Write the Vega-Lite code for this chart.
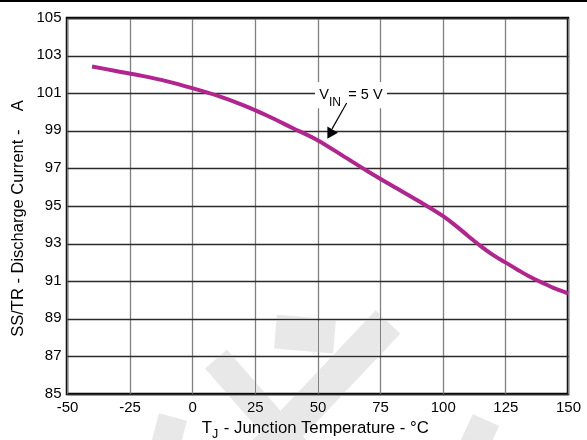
{
  "$schema": "https://vega.github.io/schema/vega-lite/v6.json",
  "width": 501,
  "height": 376,
  "autosize": "none",
  "padding": {"left": 67, "top": 18, "right": 19, "bottom": 46},
  "background": "white",
  "config": {
    "font": "Liberation Sans",
    "view": {"stroke": "black", "strokeWidth": 2.5},
    "axis": {"labelFont": "Liberation Sans", "titleFont": "Liberation Sans", "labelColor": "black", "titleColor": "black", "labelFontSize": 15, "titleFontSize": 16.5, "titleFontWeight": "normal", "ticks": false, "tickSize": 0, "domain": false}
  },
  "encoding": {
    "x": {"field": "x", "type": "quantitative", "scale": {"domain": [-50, 150], "nice": false, "zero": false},
      "axis": {"values": [-50, -25, 0, 25, 50, 75, 100, 125, 150], "labelExpr": "'' + datum.value", "title": null, "labelPadding": 5, "gridColor": "#808080", "gridWidth": 1.3, "gridOpacity": 1, "labelFlush": false}},
    "y": {"field": "y", "type": "quantitative", "scale": {"domain": [85, 105], "nice": false, "zero": false},
      "axis": {"values": [85, 87, 89, 91, 93, 95, 97, 99, 101, 103, 105], "labelExpr": "'' + datum.value", "title": "SS/TR - Discharge Current -\u00a0\u00a0\u00a0\u00a0A", "labelPadding": 6, "labelOffset": -2, "gridColor": "#2a2a2a", "gridWidth": 1.3, "gridOpacity": 1, "titleX": -50, "titleY": 200, "titleBaseline": "middle", "titleAngle": 270, "labelFlush": false}}
  },
  "layer": [
    {
      "data": {"values": [
        {"x": -40, "y": 102.42}, {"x": -30, "y": 102.17}, {"x": -20, "y": 101.92}, {"x": -10, "y": 101.63},
        {"x": 0, "y": 101.27}, {"x": 10, "y": 100.87}, {"x": 20, "y": 100.38}, {"x": 30, "y": 99.8},
        {"x": 40, "y": 99.15}, {"x": 50, "y": 98.5}, {"x": 60, "y": 97.68}, {"x": 70, "y": 96.85},
        {"x": 80, "y": 96.06}, {"x": 90, "y": 95.29}, {"x": 100, "y": 94.47}, {"x": 105, "y": 93.97},
        {"x": 110, "y": 93.42}, {"x": 115, "y": 92.88}, {"x": 120, "y": 92.4}, {"x": 125, "y": 92.0},
        {"x": 130, "y": 91.6}, {"x": 135, "y": 91.22}, {"x": 140, "y": 90.9}, {"x": 145, "y": 90.6},
        {"x": 150, "y": 90.35}
      ]},
      "mark": {"type": "line", "color": "#b0268e", "strokeWidth": 4, "interpolate": "monotone"}
    },
    {
      "data": {"values": [{"x": 49.0, "y": 101.6, "x2": 77.7, "y2": 100.2}]},
      "mark": {"type": "rect", "color": "white"},
      "encoding": {"x2": {"field": "x2"}, "y2": {"field": "y2"}}
    },
    {
      "data": {"values": [{"x": 50.72, "y": 100.68, "t": "V"}, {"x": 62.3, "y": 100.68, "t": "= 5 V"}]},
      "mark": {"type": "text", "align": "left", "baseline": "alphabetic", "fontSize": 14.5, "color": "black"},
      "encoding": {"text": {"field": "t"}}
    },
    {
      "data": {"values": [{"x": 54.6, "y": 100.34, "t": "IN"}]},
      "mark": {"type": "text", "align": "left", "baseline": "alphabetic", "fontSize": 12, "color": "black"},
      "encoding": {"text": {"field": "t"}}
    },
    {
      "data": {"values": [{"x": 61.65, "y": 100.48, "x2": 55.8, "y2": 99.1}]},
      "mark": {"type": "rule", "color": "black", "strokeWidth": 1.2},
      "encoding": {"x2": {"field": "x2"}, "y2": {"field": "y2"}}
    },
    {
      "data": {"values": [{"x": 55.0, "y": 98.82}]},
      "mark": {"type": "point", "shape": "triangle-up", "filled": true, "color": "black", "opacity": 1, "size": 150, "angle": 210}
    },
    {
      "data": {"values": [{"x": 3.77, "y": 82.94, "t": "T"}, {"x": 12.6, "y": 82.94, "t": "- Junction Temperature - °C"}]},
      "mark": {"type": "text", "align": "left", "baseline": "alphabetic", "fontSize": 16.8, "color": "black"},
      "encoding": {"text": {"field": "t"}}
    },
    {
      "data": {"values": [{"x": 7.9, "y": 82.66, "t": "J"}]},
      "mark": {"type": "text", "align": "left", "baseline": "alphabetic", "fontSize": 12.5, "color": "black"},
      "encoding": {"text": {"field": "t"}}
    },
    {
      "data": {"values": [{"x": -76.75, "y": 105.9, "x2": 157.6, "y2": 105.9}]},
      "mark": {"type": "rule", "color": "black", "strokeWidth": 2},
      "encoding": {"x2": {"field": "x2"}, "y2": {"field": "y2"}}
    },
    {
      "data": {"values": [
        {"x": 9.48, "y": 86.86, "x2": 43.01, "y2": 81.76},
        {"x": -7.68, "y": 83.78, "x2": -11.68, "y2": 81.76},
        {"x": 117.27, "y": 83.62, "x2": 110.88, "y2": 81.76}
      ]},
      "mark": {"type": "rule", "color": "#e8e8e8", "strokeWidth": 29, "strokeCap": "butt", "blend": "darken"},
      "encoding": {"x2": {"field": "x2"}, "y2": {"field": "y2"}}
    },
    {
      "data": {"values": [
        {"x": 78.14, "y": 88.83, "x2": 27.84, "y2": 81.76},
        {"x": 33.23, "y": 88.32, "x2": 56.79, "y2": 88.06}
      ]},
      "mark": {"type": "rule", "color": "#e8e8e8", "strokeWidth": 34, "strokeCap": "butt", "blend": "darken"},
      "encoding": {"x2": {"field": "x2"}, "y2": {"field": "y2"}}
    }
  ]
}
